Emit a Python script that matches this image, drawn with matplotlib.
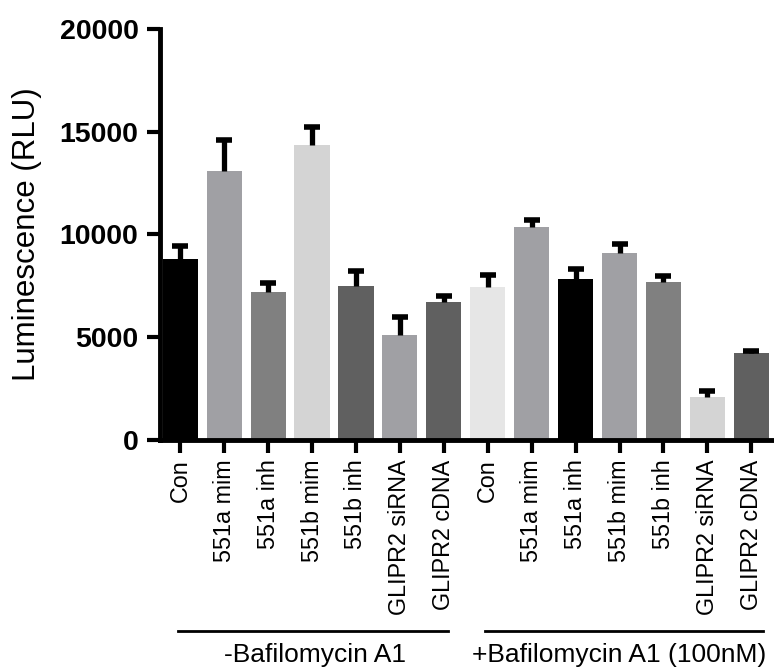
import matplotlib
matplotlib.use("Agg")
import matplotlib.pyplot as plt
import numpy as np

plt.rcParams['font.family'] = ['Liberation Sans', 'DejaVu Sans']

# bar labels, two treatment groups of seven
labels = ['Con', '551a mim', '551a inh', '551b mim', '551b inh',
          'GLIPR2 siRNA', 'GLIPR2 cDNA']
group_names = ['-Bafilomycin A1', '+Bafilomycin A1 (100nM)']

# means and upper SEM
values_minus = [8790, 13090, 7200, 14350, 7510, 5090, 6700]
errs_minus = [630, 1490, 435, 875, 700, 890, 305]
values_plus = [7430, 10350, 7835, 9085, 7690, 2110, 4235]
errs_plus = [610, 340, 500, 435, 270, 290, 110]

colors_minus = ['#000000', '#a0a0a4', '#808080', '#d4d4d4', '#606060', '#a0a0a4', '#606060']
colors_plus = ['#e6e6e6', '#a0a0a4', '#000000', '#a0a0a4', '#808080', '#d4d4d4', '#606060']

values = values_minus + values_plus
errs = errs_minus + errs_plus
colors = colors_minus + colors_plus
x = np.arange(len(values))

fig = plt.figure(figsize=(7.74, 6.70), dpi=100)
ax = fig.add_axes([160 / 774, 230 / 670, 612 / 774, 411 / 670])

ax.bar(x, values, width=0.8, color=colors, zorder=2)
eb = ax.errorbar(x, values, yerr=[np.zeros(len(errs)), errs], fmt='none',
                 ecolor='black', elinewidth=3.8, capsize=5.5, capthick=4,
                 zorder=3)
# only the upper cap, like Prism draws it
eb[1][0].set_visible(False)

ax.set_xlim(-0.46, 13.47)
ax.set_ylim(0, 20000)
ax.set_yticks([0, 5000, 10000, 15000, 20000])

for s in ['top', 'right']:
    ax.spines[s].set_visible(False)
for s in ['left', 'bottom']:
    ax.spines[s].set_linewidth(3.5)

ax.tick_params(axis='y', width=3, length=9.5, pad=6, labelsize=20.5)
ax.tick_params(axis='x', width=3, length=9, pad=5, labelsize=16.8)
for t in ax.get_yticklabels():
    t.set_fontweight('bold')

ax.set_xticks(x)
ax.set_xticklabels(labels + labels, rotation=90)

ax.set_ylabel('Luminescence (RLU)', fontsize=22.5)
ax.yaxis.set_label_coords(-0.192, 0.5)

# group bars and captions under the tick labels
trans = ax.get_xaxis_transform()
spans = [(-0.05, 6.1), (6.94, 13.27)]
centers = [3.06, 10.0]
for (x0, x1), xc, name in zip(spans, centers, group_names):
    ax.plot([x0, x1], [-0.465, -0.465], color='black', lw=2,
            transform=trans, clip_on=False)
    ax.text(xc, -0.523, name, transform=trans, ha='center',
            va='center', fontsize=19)

fig.savefig('out.png', dpi=100)
plt.close(fig)
